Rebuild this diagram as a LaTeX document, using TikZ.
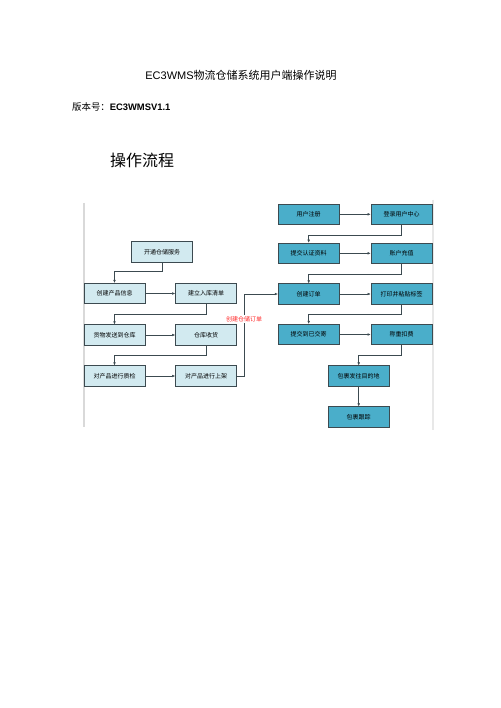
\documentclass[tikz,border=0pt]{standalone}
\usepackage{fontspec}
\setmainfont{Liberation Sans}
\newfontfamily\cjk{Noto Sans CJK SC}
\usepackage{tikz}
\usetikzlibrary{arrows.meta}
\definecolor{lightbox}{HTML}{D2EAF0}
\definecolor{tealbox}{HTML}{4AAECA}
\definecolor{boxline}{HTML}{3C4A50}

\begin{document}
\begin{tikzpicture}[x=1pt,y=-1pt,
		lbox/.style={draw=boxline,line width=0.6pt,fill=lightbox,minimum width=61pt,minimum height=20.5pt,inner sep=0pt,font=\cjk\fontsize{6}{7}\selectfont},
		rbox/.style={lbox,fill=tealbox},
		link/.style={-{Latex[length=3pt,width=2.6pt]},line width=0.5pt,draw=boxline}]
					\useasboundingbox[fill=white] (0,0) rectangle (500,708);
					% Headings
					\node (title) at (241,75) {\fontsize{11}{13}\selectfont EC3WMS{\cjk 物流仓储系统用户端操作说明}};
					\node[anchor=west,inner sep=0pt] (version) at (72,106.7) {\fontsize{9.4}{11}\selectfont{\cjk 版本号：}\textbf{EC3WMSV1.1}};
					\node[anchor=west,inner sep=0pt] (section) at (110,160) {\cjk\fontsize{16}{18}\selectfont 操作流程};
					% Edges of the chart image
					\draw[gray!30,line width=1.2pt] (84,203) -- (84,427);
					\draw[gray!18,line width=2.5pt] (433,200) -- (433,430);
					% Warehouse side
					\node[lbox] (kaitong) at (162,252) {开通仓储服务};
					\node[lbox] (chanpin) at (114.5,293.5) {创建产品信息};
					\node[lbox] (rukudan) at (206,293.5) {建立入库清单};
					\node[lbox] (fasong) at (114.5,335) {货物发送到仓库};
					\node[lbox] (shouhuo) at (206,335) {仓库收货};
					\node[lbox] (zhijian) at (114.5,376) {对产品进行质检};
					\node[lbox] (shangjia) at (206,376) {对产品进行上架};
					% Parcel side
					\node[rbox] (zhuce) at (308.7,214.3) {用户注册};
					\node[rbox] (denglu) at (401.5,214.3) {登录用户中心};
					\node[rbox] (renzheng) at (308.7,253.3) {提交认证资料};
					\node[rbox] (chongzhi) at (401.5,253.3) {账户充值};
					\node[rbox] (dingdan) at (308.7,294) {创建订单};
					\node[rbox] (biaoqian) at (401.5,294) {打印并粘贴标签};
					\node[rbox] (jiaoji) at (308.7,334.5) {提交到已交寄};
					\node[rbox] (chengzhong) at (401.5,334.5) {称重扣费};
					\node[rbox] (fawang) at (358.7,376) {包裹发往目的地};
					\node[rbox] (genzong) at (358.7,417) {包裹跟踪};
					% Connectors
					\draw[link] (kaitong.south) -- ++(0,9) -| (chanpin.north);
					\draw[link] (chanpin) -- (rukudan);
					\draw[link] (rukudan.south) -- ++(0,10) -| (fasong.north);
					\draw[link] (fasong) -- (shouhuo);
					\draw[link] (shouhuo.south) -- ++(0,10) -| (zhijian.north);
					\draw[link] (zhijian) -- (shangjia);
					\draw[link] (shangjia.east) -- ++(7,0) |- (dingdan.west);
					\node[fill=white,inner sep=1pt,text=red!85!white,font=\cjk\fontsize{6}{7}\selectfont] (cangchu) at (244,319) {创建仓储订单};
					\draw[link] (zhuce) -- (denglu);
					\draw[link] (denglu.south) -- ++(0,10) -| (renzheng.north);
					\draw[link] (renzheng) -- (chongzhi);
					\draw[link] (chongzhi.south) -- ++(0,10) -| (dingdan.north);
					\draw[link] (dingdan) -- (biaoqian);
					\draw[link] (biaoqian.south) -- ++(0,10) -| (jiaoji.north);
					\draw[link] (jiaoji) -- (chengzhong);
					\draw[link] (chengzhong.south) -- ++(0,10) -| (fawang.north);
					\draw[link] (fawang) -- (genzong);
				\end{tikzpicture}
\end{document}
